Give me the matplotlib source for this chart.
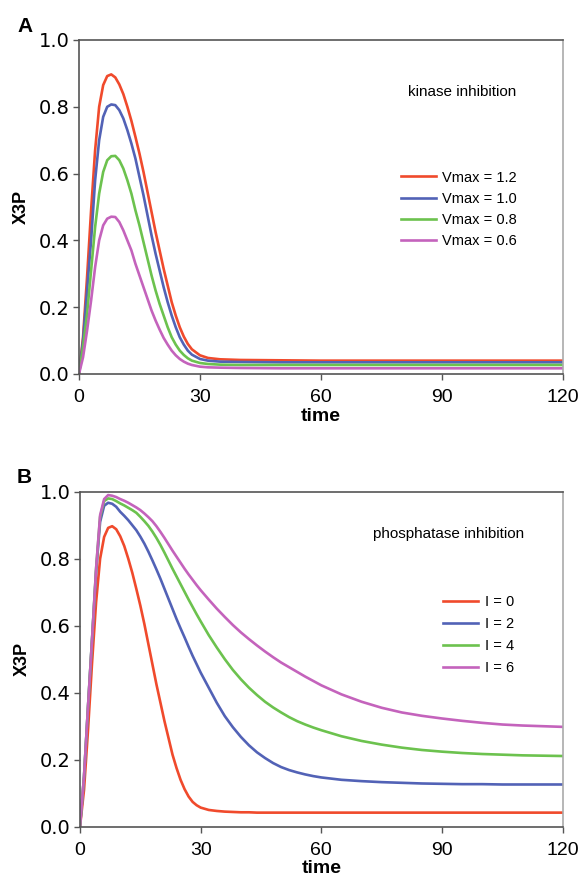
import matplotlib
matplotlib.use("Agg")
import matplotlib.pyplot as plt

plt.rcParams['font.family'] = ['Liberation Sans', 'DejaVu Sans']

# ---------------- Data: panel A (kinase inhibition) ----------------
time_a = [0, 1, 2, 3, 4, 5, 6, 7, 8, 9, 10, 11, 12, 13, 14, 15, 16, 17, 18, 19,
          20, 21, 22, 23, 24, 25, 26, 27, 28, 30, 32, 35, 40, 50, 60, 80, 100, 120]
vmax_12 = [0, 0.11, 0.29, 0.49, 0.67, 0.80, 0.865, 0.892, 0.897, 0.888, 0.867, 0.838,
           0.80, 0.758, 0.71, 0.66, 0.605, 0.545, 0.485, 0.425, 0.37, 0.315, 0.265,
           0.215, 0.175, 0.14, 0.112, 0.09, 0.074, 0.056, 0.048, 0.044, 0.042, 0.041,
           0.040, 0.040, 0.040, 0.040]
vmax_10 = [0, 0.10, 0.25, 0.40, 0.58, 0.70, 0.77, 0.80, 0.807, 0.805, 0.79, 0.765,
           0.73, 0.69, 0.645, 0.59, 0.535, 0.475, 0.415, 0.36, 0.31, 0.26, 0.215,
           0.175, 0.14, 0.11, 0.088, 0.07, 0.058, 0.045, 0.040, 0.037, 0.036, 0.035,
           0.035, 0.035, 0.035, 0.035]
vmax_08 = [0, 0.08, 0.18, 0.31, 0.44, 0.54, 0.605, 0.64, 0.652, 0.653, 0.64, 0.615,
           0.58, 0.54, 0.49, 0.445, 0.395, 0.345, 0.295, 0.25, 0.21, 0.175, 0.14,
           0.11, 0.088, 0.07, 0.057, 0.047, 0.040, 0.033, 0.030, 0.028, 0.027, 0.027,
           0.027, 0.027, 0.027, 0.027]
vmax_06 = [0, 0.05, 0.13, 0.22, 0.32, 0.40, 0.445, 0.465, 0.471, 0.47, 0.455, 0.43,
           0.40, 0.37, 0.33, 0.295, 0.26, 0.225, 0.19, 0.16, 0.133, 0.108, 0.088,
           0.07, 0.056, 0.045, 0.037, 0.031, 0.027, 0.022, 0.020, 0.019, 0.018, 0.017,
           0.017, 0.017, 0.017, 0.017]
labels_a = ["Vmax = 1.2", "Vmax = 1.0", "Vmax = 0.8", "Vmax = 0.6"]

# ---------------- Data: panel B (phosphatase inhibition) ----------------
time_b = [0, 1, 2, 3, 4, 5, 6, 7, 8, 9, 10, 11, 12, 13, 14, 15, 16, 17, 18, 19, 20,
          21, 22, 23, 24, 25, 26, 27, 28, 29, 30,
          32, 34, 36, 38, 40, 42, 44, 46, 48, 50, 52, 54, 56, 58, 60,
          65, 70, 75, 80, 85, 90, 95, 100, 105, 110, 115, 120]
i_0 = [0, 0.11, 0.29, 0.49, 0.67, 0.80, 0.865, 0.892, 0.897, 0.888, 0.867, 0.838,
       0.80, 0.758, 0.71, 0.66, 0.605, 0.545, 0.485, 0.425, 0.37, 0.315, 0.265,
       0.215, 0.175, 0.14, 0.112, 0.09, 0.074, 0.064, 0.057,
       0.050, 0.047, 0.045, 0.044, 0.043, 0.043, 0.042, 0.042, 0.042, 0.042, 0.042,
       0.042, 0.042, 0.042, 0.042,
       0.042, 0.042, 0.042, 0.042, 0.042, 0.042, 0.042, 0.042, 0.042, 0.042, 0.042,
       0.042]
i_2 = [0, 0.15, 0.36, 0.56, 0.76, 0.91, 0.958, 0.967, 0.964, 0.955, 0.94, 0.928,
       0.915, 0.90, 0.885, 0.866, 0.845, 0.821, 0.795, 0.768, 0.74, 0.71, 0.68,
       0.65, 0.62, 0.592, 0.565, 0.537, 0.51, 0.485, 0.46,
       0.415, 0.37, 0.33, 0.297, 0.268, 0.243, 0.222, 0.205, 0.19, 0.178, 0.169,
       0.162, 0.156, 0.151, 0.147,
       0.14, 0.136, 0.133, 0.131, 0.129, 0.128, 0.127, 0.127, 0.126, 0.126, 0.126,
       0.126]
i_4 = [0, 0.15, 0.36, 0.56, 0.77, 0.925, 0.972, 0.98, 0.978, 0.972, 0.965, 0.959,
       0.952, 0.945, 0.937, 0.925, 0.912, 0.898, 0.881, 0.862, 0.841, 0.818, 0.794,
       0.77, 0.747, 0.724, 0.701, 0.678, 0.656, 0.634, 0.613,
       0.572, 0.535, 0.50, 0.468, 0.44, 0.415, 0.393, 0.373, 0.356, 0.341, 0.327,
       0.315, 0.305, 0.296, 0.288,
       0.27, 0.256, 0.245, 0.236, 0.229, 0.224, 0.22, 0.217, 0.215, 0.213, 0.212,
       0.211]
i_6 = [0, 0.15, 0.36, 0.56, 0.77, 0.93, 0.978, 0.99, 0.988, 0.984, 0.978, 0.973,
       0.967, 0.96, 0.953, 0.945, 0.935, 0.924, 0.912, 0.897, 0.88, 0.862, 0.843,
       0.824, 0.806, 0.788, 0.77, 0.753, 0.737, 0.721, 0.706,
       0.678, 0.651, 0.626, 0.602, 0.58, 0.56, 0.541, 0.523, 0.506, 0.49, 0.476,
       0.462, 0.448, 0.435, 0.422,
       0.395, 0.373, 0.355, 0.341, 0.331, 0.323, 0.316, 0.31, 0.305, 0.302, 0.30,
       0.298]
labels_b = ["I = 0", "I = 2", "I = 4", "I = 6"]

x_ticks = [0, 30, 60, 90, 120]
y_ticks = [0.0, 0.2, 0.4, 0.6, 0.8, 1.0]

colors = ["#f04a2c", "#5262b6", "#6cc24e", "#c463bc"]

fig = plt.figure(figsize=(5.82, 8.85), dpi=100)
ax_a = fig.add_axes([79 / 582, 1 - 374 / 885, (562.7 - 79) / 582, (374 - 40) / 885])
ax_b = fig.add_axes([80 / 582, 1 - 826.7 / 885, (562.7 - 80) / 582, (826.7 - 491.7) / 885])


def style(ax):
    ax.set_xlim(0, 120)
    ax.set_ylim(0, 1.0)
    ax.set_xticks(x_ticks)
    ax.set_yticks(y_ticks)
    ax.set_xticklabels([str(t) for t in x_ticks], fontsize=14)
    ax.set_yticklabels(["%.1f" % v for v in y_ticks], fontsize=14,
                       family=['DejaVu Sans'])
    ax.tick_params(axis='both', direction='out', length=4, width=1.0,
                   color='#555555')
    ax.tick_params(axis='x', pad=7)
    ax.tick_params(axis='y', pad=2.5)
    for s in ['left', 'bottom', 'top']:
        ax.spines[s].set_color('#555555')
        ax.spines[s].set_linewidth(1.2)
    ax.spines['right'].set_color('#aaaaaa')
    ax.spines['right'].set_linewidth(1.2)
    ax.set_xlabel('time', fontsize=14, fontweight='bold', labelpad=1)
    ax.set_ylabel('X3P', fontsize=13, fontweight='bold', labelpad=7)


for ys, c, lab in zip([vmax_12, vmax_10, vmax_08, vmax_06], colors, labels_a):
    ax_a.plot(time_a, ys, color=c, lw=1.9, label=lab, solid_joinstyle='round')
for ys, c, lab in zip([i_0, i_2, i_4, i_6], colors, labels_b):
    ax_b.plot(time_b, ys, color=c, lw=1.9, label=lab, solid_joinstyle='round')

style(ax_a)
style(ax_b)

ax_a.text(81.5, 0.845, 'kinase inhibition', fontsize=11, va='center', ha='left')
ax_b.text(72.8, 0.874, 'phosphatase inhibition', fontsize=11, va='center', ha='left')

ax_a.legend(loc='upper left', bbox_to_anchor=(0.665, 0.609), frameon=False,
            fontsize=10.5, handlelength=2.4, handletextpad=0.46, labelspacing=0.5,
            borderpad=0, borderaxespad=0)
ax_b.legend(loc='upper left', bbox_to_anchor=(0.752, 0.691), frameon=False,
            fontsize=10.5, handlelength=2.4, handletextpad=0.5, labelspacing=0.55,
            borderpad=0, borderaxespad=0)

fig.text(17 / 582, 1 - 26.5 / 885, 'A', fontsize=15, fontweight='bold', va='center')
fig.text(17 / 582, 1 - 477 / 885, 'B', fontsize=15, fontweight='bold', va='center')

fig.savefig('out.png', dpi=100)
